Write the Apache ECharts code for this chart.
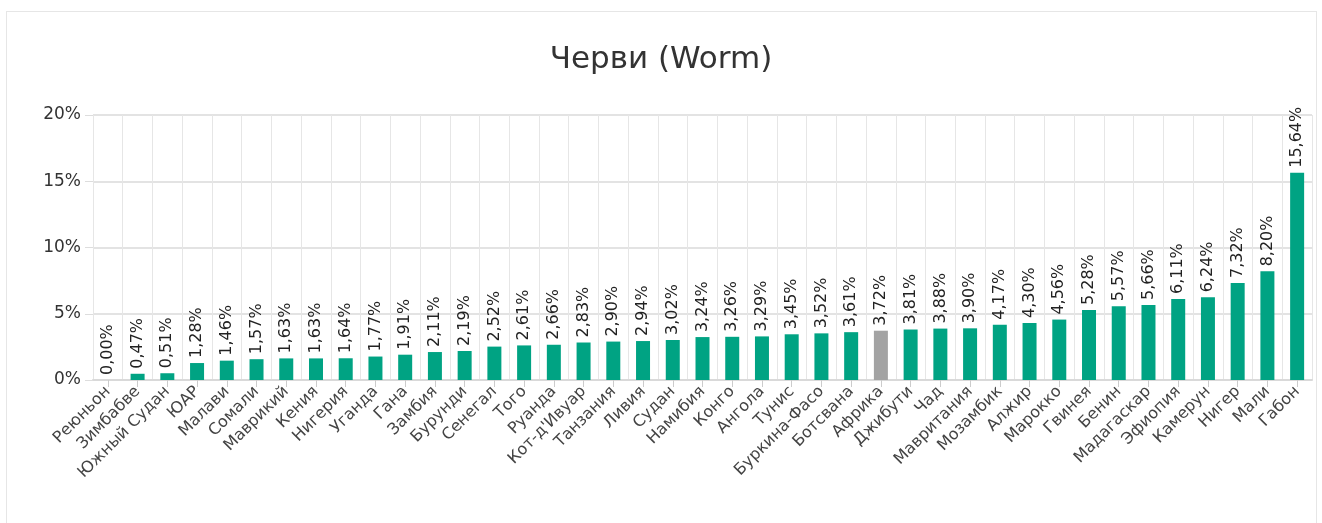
<!DOCTYPE html>
<html lang="ru">
<head>
    <meta charset="UTF-8">
    <title>Черви (Worm)</title>
    <style>
        html, body { margin: 0; padding: 0; background: #fff; }
        #frame { position: absolute; left: 6px; top: 11px; width: 1311px; height: 530px; border: 1px solid #e6e6e6; box-sizing: border-box; }
        #main { position: absolute; left: 0; top: 0; width: 1322px; height: 523px; }
    </style>
</head>
<body>
<script src="https://cdn.jsdelivr.net/npm/echarts@6/dist/echarts.min.js"></script>
<div id="frame"></div>
<div id="main"></div>

<script>
    var countries = ['Реюньон', 'Зимбабве', 'Южный Судан', 'ЮАР', 'Малави', 'Сомали', 'Маврикий', 'Кения',
        'Нигерия', 'Уганда', 'Гана', 'Замбия', 'Бурунди', 'Сенегал', 'Того', 'Руанда', 'Кот-д\'Ивуар',
        'Танзания', 'Ливия', 'Судан', 'Намибия', 'Конго', 'Ангола', 'Тунис', 'Буркина-Фасо', 'Ботсвана',
        'Африка', 'Джибути', 'Чад', 'Мавритания', 'Мозамбик', 'Алжир', 'Марокко', 'Гвинея', 'Бенин',
        'Мадагаскар', 'Эфиопия', 'Камерун', 'Нигер', 'Мали', 'Габон'];
    var shares = [0.00, 0.47, 0.51, 1.28, 1.46, 1.57, 1.63, 1.63, 1.64, 1.77, 1.91, 2.11, 2.19, 2.52, 2.61,
        2.66, 2.83, 2.90, 2.94, 3.02, 3.24, 3.26, 3.29, 3.45, 3.52, 3.61, 3.72, 3.81, 3.88, 3.90, 4.17,
        4.30, 4.56, 5.28, 5.57, 5.66, 6.11, 6.24, 7.32, 8.20, 15.64];
    var highlight = 'Африка';

    var myChart = echarts.init(document.getElementById('main'));

    var barData = [];
    for (var i = 0; i < shares.length; i++) {
        barData.push({
            value: shares[i],
            itemStyle: { color: countries[i] === highlight ? '#a3a3a3' : '#00a383' }
        });
    }

    var font = '"DejaVu Sans", "Noto Sans", sans-serif';

    var option = {
        animation: false,
        textStyle: { fontFamily: font },
        title: {
            text: 'Черви (Worm)',
            left: 'center',
            top: 39,
            textStyle: { fontSize: 31, fontWeight: 'normal', color: '#333', fontFamily: font }
        },
        grid: { left: 93, right: 10, top: 115, bottom: 143 },
        xAxis: {
            type: 'category',
            data: countries,
            axisLine: { lineStyle: { color: '#d9d9d9', width: 2 } },
            axisTick: { show: true, alignWithLabel: true, length: 7, lineStyle: { color: '#cccccc' } },
            splitLine: { show: true, lineStyle: { color: '#e6e6e6' } },
            axisLabel: { interval: 0, rotate: 45, fontSize: 16, color: '#444', margin: 9, fontFamily: font }
        },
        yAxis: {
            type: 'value',
            min: 0,
            max: 20,
            interval: 5,
            axisLine: { show: false },
            axisTick: { show: true, length: 8, lineStyle: { color: '#dddddd' } },
            splitLine: { lineStyle: { color: '#e3e3e3', width: 2 } },
            axisLabel: { formatter: '{value}%', fontSize: 17, color: '#333', margin: 12, fontFamily: font }
        },
        series: [{
            type: 'bar',
            data: barData,
            barWidth: 14,
            label: {
                show: true,
                position: 'top',
                rotate: 90,
                align: 'left',
                verticalAlign: 'middle',
                distance: 5,
                fontSize: 16,
                color: '#222',
                fontFamily: font,
                formatter: function (p) {
                    return p.value.toFixed(2).replace('.', ',') + '%';
                }
            }
        }]
    };

    myChart.setOption(option);
</script>
</body>
</html>
